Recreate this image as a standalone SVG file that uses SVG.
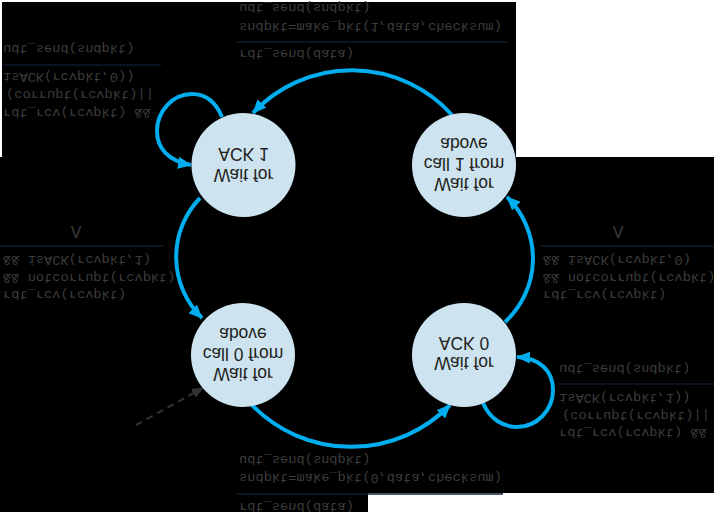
<svg xmlns="http://www.w3.org/2000/svg" width="714" height="514" viewBox="0 0 714 514">
<style>
.nd{fill:#cde4f0}
.nt{font-family:"Liberation Sans",Arial,sans-serif;font-size:17.5px;fill:#231f20;text-anchor:middle}
.lb{font-family:"Liberation Mono","Courier New",monospace;font-size:13.7px;fill:#3c3c3c}
.lam{font-family:"Liberation Sans",Arial,sans-serif;font-size:16px;fill:#3c3c3c;text-anchor:middle}
.sep{stroke:#0c1a2e;stroke-width:1.5}
.edge{fill:none;stroke:#00aeef;stroke-width:4;marker-end:url(#ah)}
.init{fill:none;stroke:#333;stroke-width:2;stroke-dasharray:7 5;marker-end:url(#ahd)}
</style>
<defs>
<marker id="ah" viewBox="0 0 14 12" refX="13" refY="6" markerWidth="14" markerHeight="12" markerUnits="userSpaceOnUse" orient="auto"><path d="M0,0 L14,6 L0,12 z" fill="#00aeef"/></marker>
<marker id="ahd" viewBox="0 0 12 10" refX="11" refY="5" markerWidth="12" markerHeight="10" markerUnits="userSpaceOnUse" orient="auto"><path d="M0,0 L12,5 L0,10 z" fill="#333"/></marker>
</defs>
<rect width="714" height="514" fill="#fff"/>
<path d="M2,2 L516,2 L516,157 L714,157 L714,493 L368,493 L368,512 L0,512 L0,157 L2,157 Z" fill="#000"/>
<g transform="translate(0,514) scale(1,-1)">
<g id="connectors">
<path class="init" d="M136,89 L203,126"/>
<path class="edge" d="M252,109 A138,138 0 0 1 450,109"/>
<path class="edge" d="M505,192 A86,86 0 0 1 507,317"/>
<path class="edge" d="M452,399 A135,135 0 0 1 253,401"/>
<path class="edge" d="M200,316 A85,85 0 0 1 202,196"/>
<path class="edge" d="M222,397 C215,414 205,420 192,420 C172,420 157,402 157,383 C157,366 168,353 191,349"/>
<path class="edge" d="M483,111 C490,95 503,87 517,87 C537,87 553,104 553,124 C553,143 540,156 517,157"/>
</g>
<g id="labels">
<text class="lb" x="239" y="11">rdt_send(data)</text>
<line class="sep" x1="237" y1="20" x2="503" y2="20"/>
<text class="lb" x="239" y="40">sndpkt=make_pkt(0,data,checksum)</text>
<text class="lb" x="239" y="58">udt_send(sndpkt)</text>

<text class="lb" x="239" y="464">rdt_send(data)</text>
<line class="sep" x1="237" y1="472" x2="508" y2="472"/>
<text class="lb" x="239" y="491">sndpkt=make_pkt(1,data,checksum)</text>
<text class="lb" x="239" y="510">udt_send(sndpkt)</text>

<text class="lb" x="3" y="405.5">rdt_rcv(rcvpkt) &amp;&amp;</text>
<text class="lb" x="6" y="423.5">(corrupt(rcvpkt)||</text>
<text class="lb" x="3" y="441.5">isACK(rcvpkt,0))</text>
<line class="sep" x1="3" y1="449" x2="161" y2="449"/>
<text class="lb" x="3" y="469.5">udt_send(sndpkt)</text>

<text class="lb" x="3" y="223.5">rdt_rcv(rcvpkt)</text>
<text class="lb" x="3" y="240.5">&amp;&amp; notcorrupt(rcvpkt)</text>
<text class="lb" x="3" y="258.5">&amp;&amp; isACK(rcvpkt,1)</text>
<line class="sep" x1="0" y1="268" x2="164" y2="268"/>
<text class="lam" x="76" y="288">Λ</text>

<text class="lb" x="543" y="223.5">rdt_rcv(rcvpkt)</text>
<text class="lb" x="543" y="240.5">&amp;&amp; notcorrupt(rcvpkt)</text>
<text class="lb" x="543" y="258.5">&amp;&amp; isACK(rcvpkt,0)</text>
<line class="sep" x1="540" y1="268" x2="714" y2="268"/>
<text class="lam" x="618" y="288">Λ</text>

<text class="lb" x="559" y="85">rdt_rcv(rcvpkt) &amp;&amp;</text>
<text class="lb" x="562" y="102.5">(corrupt(rcvpkt)||</text>
<text class="lb" x="559" y="120">isACK(rcvpkt,1))</text>
<line class="sep" x1="558" y1="130" x2="714" y2="130"/>
<text class="lb" x="559" y="149">udt_send(sndpkt)</text>
</g>
<g id="call0">
<circle class="nd" cx="243" cy="159" r="52"/>
<text class="nt" x="243" y="146">Wait for</text>
<text class="nt" x="243" y="166">call 0 from</text>
<text class="nt" x="243" y="186">above</text>
</g>
<g id="ack0">
<circle class="nd" cx="464" cy="159" r="52"/>
<text class="nt" x="464" y="157">Wait for</text>
<text class="nt" x="464" y="177">ACK 0</text>
</g>
<g id="call1">
<circle class="nd" cx="464" cy="349" r="52"/>
<text class="nt" x="464" y="336">Wait for</text>
<text class="nt" x="464" y="356">call 1 from</text>
<text class="nt" x="464" y="376">above</text>
</g>
<g id="ack1">
<circle class="nd" cx="243.5" cy="349" r="52"/>
<text class="nt" x="243.5" y="345">Wait for</text>
<text class="nt" x="243.5" y="366">ACK 1</text>
</g>
</g>
</svg>
